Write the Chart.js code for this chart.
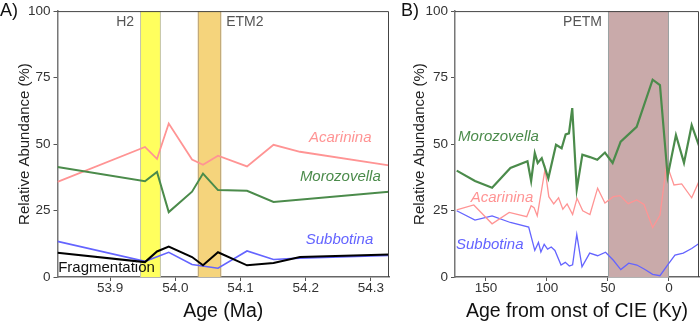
<!DOCTYPE html>
<html>
<head>
<meta charset="utf-8">
<script src="https://cdn.jsdelivr.net/npm/chart.js@4.4.1/dist/chart.umd.min.js"></script>
<style>
  html, body { margin: 0; padding: 0; background: #fff; }
  #wrap { position: relative; width: 700px; height: 323px; font-family: "Liberation Sans", Arial, sans-serif; }
  #chartA { position: absolute; left: 0; top: 0; }
  #chartB { position: absolute; left: 395px; top: 0; }
  .tag { position: absolute; font-size: 18px; color: #111; line-height: 20px; }
</style>
</head>
<body>
<div id="wrap">
  <canvas id="chartA" width="395" height="323"></canvas>
  <canvas id="chartB" width="305" height="323"></canvas>
  <div class="tag" style="left:0px;top:0px">A)</div>
  <div class="tag" style="left:401px;top:0px">B)</div>
</div>
<script>
// Panel A - age in Ma, one shared set of samples
const ageA = [53.8195, 53.9536, 53.972, 53.990, 54.0257, 54.0425, 54.0655, 54.110, 54.1506, 54.1912, 54.3276];
const acarininaA   = [35.8, 48.9, 44.4, 57.7, 44.2, 42.2, 45.6, 41.6, 49.7, 47.1, 42.0];
const morozovellaA = [41.4, 36.0, 39.5, 24.4, 32.1, 38.9, 32.7, 32.4, 28.2, null, 32.1];
const subbotinaA   = [13.4, 5.9, null, 9.3, 4.7, null, 3.3, 9.8, 6.6, 7.1, 8.1];
const fragmentA    = [9.1, 5.6, 9.6, 11.4, 7.5, 4.4, 9.3, 4.4, 5.3, 7.5, 8.5];
const ticksAgeA = [53.9, 54.0, 54.1, 54.2, 54.3];

// Panel B - age from onset of CIE (Ky), each genus has its own samples
const ageMoroB = [174, 159, 145, 130, 116, 113, 110, 107.6, 104.3, 98.9, 92.6, 88, 84.7, 82, 79.3, 75.6, 71, 64.8, 58.8, 52.5, 46.2, 39.6, 26.5, 13.4, 7.4, 1.1, -5.7, -12.3, -18.6, -24.8];
const moroB    = [40.0, 36.1, 33.6, 41.0, 43.5, 36.1, 46.6, 42.9, 44.7, 37.1, 49.7, 48.4, 53.6, 54.0, 63.5, 33.0, 46.0, 45.1, 44.1, 46.8, 42.9, 50.9, 56.5, 74.2, 72.2, 37.9, 53.4, 42.9, 57.1, 49.1];
const ageAcaB  = [174, 160, 145, 131, 116.6, 113, 110.6, 108, 101.6, 98.5, 94.5, 90.5, 87, 83.5, 79, 75.4, 70.7, 64.8, 58.5, 52.5, 45.6, 40.2, 33.4, 26.5, 20.5, 13.4, 7.4, 1.9, -4.1, -10.4, -18.6, -24.6];
const acaB     = [25.2, 27.1, 20.0, 24.3, 22.7, 26.8, 26.1, 23.0, 40.5, 30.2, 27.5, 29.8, 25.5, 27.5, 23.5, 29.6, 24.9, 23.5, 33.4, 27.8, 30.2, 30.6, 27.6, 29.0, 27.3, 18.6, 23.2, 42.5, 34.6, 35.0, 29.8, 36.0];
const ageSubB  = [174, 159, 145, 130, 115, 110, 107, 105, 102.3, 99.5, 96.5, 93.5, 88.5, 85, 81.7, 79, 75.6, 71.3, 65, 58.5, 52, 45.6, 39.5, 33, 26.3, 19.7, 13.4, 7.4, 0.6, -4.9, -11.7, -18.6, -24.6];
const subB     = [24.9, 21.4, 23.0, 20.5, 18.8, 10.0, 13.0, 9.4, 12.3, 10.5, 11.3, 10.0, 4.5, 5.5, 4.1, 4.6, 16.0, 3.8, 9.0, 8.0, 9.3, 6.3, 2.8, 5.2, 4.5, 2.8, 1.0, 0.5, 4.8, 8.2, 9.0, 10.7, 12.6];
const ticksAgeB = [150, 100, 50, 0];

const ticksY = [0, 25, 50, 75, 100];

const PINK = '#ff9494', GREEN = '#4b8b4b', BLUE = '#6464ff', BLACK = '#000';
const FONT = '"Liberation Sans", Arial, sans-serif';

const pts = (xs, ys) => xs.map((x, i) => ({ x: x, y: ys[i] }));

// bands, band names, top/right frame and the genus names
const decor = {
  id: 'decor',
  beforeDatasetsDraw(chart, args, opts) {
    const { ctx, chartArea: a, scales: { x } } = chart;
    ctx.save();
    (opts.bands || []).forEach(b => {
      const p0 = x.getPixelForValue(b.from), p1 = x.getPixelForValue(b.to);
      const l = Math.min(p0, p1), w = Math.abs(p1 - p0);
      ctx.fillStyle = b.fill;
      ctx.fillRect(l, a.top, w, a.bottom - a.top);
      ctx.strokeStyle = b.edge;
      ctx.lineWidth = 1;
      ctx.beginPath();
      ctx.moveTo(l + 0.5, a.top); ctx.lineTo(l + 0.5, a.bottom);
      ctx.moveTo(l + w - 0.5, a.top); ctx.lineTo(l + w - 0.5, a.bottom);
      ctx.stroke();
      ctx.font = '14px ' + FONT;
      ctx.fillStyle = '#555';
      ctx.textBaseline = 'middle';
      if (b.side === 'left') {
        ctx.textAlign = 'right';
        ctx.fillText(b.label, l - 6, a.top + 11);
      } else {
        ctx.textAlign = 'left';
        ctx.fillText(b.label, l + w + 5, a.top + 11);
      }
    });
    ctx.restore();
  },
  afterDatasetsDraw(chart, args, opts) {
    const { ctx, chartArea: a, scales: { x, y } } = chart;
    ctx.save();
    ctx.strokeStyle = '#444';
    ctx.lineWidth = 1;
    ctx.beginPath();
    ctx.moveTo(a.left, a.top + 0.5);
    ctx.lineTo(a.right - 0.5, a.top + 0.5);
    ctx.lineTo(a.right - 0.5, a.bottom);
    ctx.stroke();
    (opts.notes || []).forEach(n => {
      ctx.font = (n.italic ? 'italic ' : '') + '15px ' + FONT;
      ctx.fillStyle = n.color;
      ctx.textAlign = 'left';
      ctx.textBaseline = 'middle';
      ctx.fillText(n.text, x.getPixelForValue(n.x), y.getPixelForValue(n.y));
    });
    ctx.restore();
  }
};

function line(label, data, color, width) {
  return { label, data, borderColor: color, borderWidth: width, pointRadius: 0, tension: 0, fill: false, spanGaps: true };
}

function makeOptions(cfg) {
  return {
    responsive: false,
    animation: false,
    layout: { padding: { top: cfg.top, right: cfg.right, left: 0, bottom: 0 } },
    plugins: { legend: { display: false }, tooltip: { enabled: false }, decor: cfg.decor },
    scales: {
      x: {
        type: 'linear',
        min: cfg.xmin, max: cfg.xmax, reverse: cfg.reverse,
        afterFit: s => { s.height = 46; },
        afterBuildTicks: s => { s.ticks = cfg.xticks.map(v => ({ value: v })); },
        ticks: { color: '#333', font: { family: FONT, size: 13.5 }, padding: -1, maxRotation: 0,
                 callback: v => cfg.fmt(v) },
        grid: { drawOnChartArea: false, drawTicks: true, tickLength: 4, color: '#555' },
        border: { display: true, color: '#666', width: 1.5 },
        title: { display: true, text: cfg.xtitle, color: '#111', font: { family: FONT, size: 19.5 },
                 padding: { top: 0, bottom: 0 } }
      },
      y: {
        min: 0, max: 100,
        afterFit: s => { s.width = cfg.yw; },
        afterBuildTicks: s => { s.ticks = ticksY.map(v => ({ value: v })); },
        ticks: { color: '#333', font: { family: FONT, size: 13.5 }, padding: 3 },
        grid: { drawOnChartArea: false, drawTicks: true, tickLength: 4, color: '#555' },
        border: { display: true, color: '#777', width: 1.5 },
        title: { display: true, text: 'Relative Abundance (%)', color: '#222', font: { family: FONT, size: 15 },
                 padding: { top: 16, bottom: 0 } }
      }
    }
  };
}

new Chart(document.getElementById('chartA'), {
  type: 'line',
  data: {
    datasets: [
      line('Fragmentation', pts(ageA, fragmentA), BLACK, 2),
      line('Subbotina', pts(ageA, subbotinaA), BLUE, 1.6),
      line('Morozovella', pts(ageA, morozovellaA), GREEN, 2),
      line('Acarinina', pts(ageA, acarininaA), PINK, 1.8)
    ]
  },
  options: makeOptions({
    top: 6, right: 6, yw: 57.5,
    xmin: 53.8195, xmax: 54.3276, reverse: false,
    xticks: ticksAgeA, fmt: v => v.toFixed(1), xtitle: 'Age (Ma)',
    decor: {
      bands: [
        { from: 53.946, to: 53.978, fill: '#ffff5e', edge: '#c4c4b4', label: 'H2', side: 'left' },
        { from: 54.0346, to: 54.0704, fill: '#f5d47c', edge: '#b8a27a', label: 'ETM2', side: 'right' }
      ],
      notes: [
        { text: 'Acarinina', x: 54.205, y: 52.4, color: PINK, italic: true },
        { text: 'Morozovella', x: 54.191, y: 37.6, color: GREEN, italic: true },
        { text: 'Subbotina', x: 54.2, y: 14.0, color: BLUE, italic: true },
        { text: 'Fragmentation', x: 53.8205, y: 3.4, color: '#111', italic: false }
      ]
    }
  }),
  plugins: [decor]
});

new Chart(document.getElementById('chartB'), {
  type: 'line',
  data: {
    datasets: [
      line('Morozovella', pts(ageMoroB, moroB), GREEN, 2.2),
      line('Acarinina', pts(ageAcaB, acaB), PINK, 1.3),
      line('Subbotina', pts(ageSubB, subB), BLUE, 1.3)
    ]
  },
  options: makeOptions({
    top: 7.5, right: 1, yw: 60,
    xmin: -24.6, xmax: 175.4, reverse: true,
    xticks: ticksAgeB, fmt: v => String(Math.round(v)), xtitle: 'Age from onst of CIE (Ky)',
    decor: {
      bands: [
        { from: 50, to: 0, fill: '#c9aaaa', edge: '#9aa2a2', label: 'PETM', side: 'left' }
      ],
      notes: [
        { text: 'Morozovella', x: 172.9, y: 52.7, color: GREEN, italic: true },
        { text: 'Acarinina', x: 162.5, y: 29.6, color: PINK, italic: true },
        { text: 'Subbotina', x: 174.6, y: 12.2, color: BLUE, italic: true }
      ]
    }
  }),
  plugins: [decor]
});
</script>
</body>
</html>
